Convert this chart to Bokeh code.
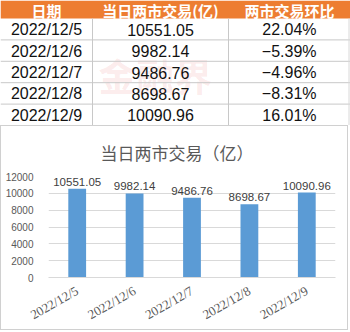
from bokeh.plotting import figure
from bokeh.models import FactorRange, Range1d, FixedTicker, Title
from bokeh.layouts import column
from bokeh.core.properties import value
from bokeh.embed import file_html
from bokeh.resources import INLINE

dates = ["2022/12/5", "2022/12/6", "2022/12/7", "2022/12/8", "2022/12/9"]
volumes = [10551.05, 9982.14, 9486.76, 8698.67, 10090.96]
changes = ["22.04%", "\u22125.39%", "\u22124.96%", "\u22128.31%", "16.01%"]
headers = ["日期", "当日两市交易(亿)", "两市交易环比"]
chart_title = "当日两市交易（亿）"
y_ticks = [0, 2000, 4000, 6000, 8000, 10000, 12000]

ORANGE = "#ED7D31"
BLUE = "#5B9BD5"
GRID = "#d9d9d9"

# ---------------- table ----------------
TW, TH = 350, 125
HEAD_H = 18
ROW_H = (TH - HEAD_H) / len(dates)
col_lines = [92, 228]
head_x = [46, 160, 289]

t = figure(width=TW, height=TH, x_range=Range1d(0, TW), y_range=Range1d(TH, 0),
           toolbar_location=None, output_backend="svg", min_border=0,
           x_axis_location=None, y_axis_location=None, frame_align=False)
t.grid.visible = False
t.outline_line_color = None
t.background_fill_color = "white"

t.quad(left=[0], right=[TW], top=[0], bottom=[HEAD_H], color=ORANGE, line_color=None)

# watermark
t.text(x=[155], y=[74], text=["金融界"], text_font=value("Noto Sans CJK SC"),
       text_font_size="38px", text_color="#e84040", text_alpha=0.10,
       text_align="center", text_baseline="middle", text_font_style="bold")

row_bounds = [HEAD_H + ROW_H * i for i in range(1, len(dates) + 1)]
t.segment(x0=[0] * len(row_bounds), x1=[TW] * len(row_bounds), y0=row_bounds, y1=row_bounds,
          line_color="#c8c8c8", line_width=1)
t.segment(x0=col_lines, x1=col_lines, y0=[HEAD_H] * 2, y1=[TH] * 2, line_color="#c8c8c8", line_width=1)
t.segment(x0=[TW - 1.5], x1=[TW - 1.5], y0=[HEAD_H], y1=[TH], line_color="#d8d8d8", line_width=1)

t.text(x=head_x, y=[HEAD_H / 2 + 0.5] * 3, text=headers, text_font=value("Noto Sans CJK SC"),
       text_font_size="15px", text_font_style="bold", text_color="white",
       text_align="center", text_baseline="middle")

ys = [HEAD_H + ROW_H * (i + 0.5) + 0.5 for i in range(len(dates))]
t.text(x=[46] * len(dates), y=ys, text=dates, text_font=value("Liberation Sans"),
       text_font_size="16px", text_color="#111111", text_align="center", text_baseline="middle")
t.text(x=[160] * len(dates), y=ys, text=[f"{v:.2f}" for v in volumes], text_font=value("Liberation Sans"),
       text_font_size="16px", text_color="#111111", text_align="center", text_baseline="middle")
t.text(x=[316] * len(dates), y=ys, text=changes, text_font=value("Liberation Sans"),
       text_font_size="16px", text_color="#111111", text_align="right", text_baseline="middle")

# ---------------- chart ----------------
p = figure(width=348, height=205, x_range=FactorRange(*dates), y_range=Range1d(0, 12000),
           toolbar_location=None, output_backend="svg",
           min_border_left=47, min_border_right=14, min_border_top=49, min_border_bottom=48,
           title=None, frame_align=False,
           styles={"border": "1px solid #d0d0d0"})
p.outline_line_color = None
p.add_layout(Title(text=chart_title, align="left", offset=52, standoff=23,
                   text_font="Noto Sans CJK SC", text_font_size="17px",
                   text_font_style="normal", text_color="#595959"), "above")

p.vbar(x=dates, top=volumes, width=0.31, color=BLUE, line_color=None)
p.text(x=dates, y=volumes, text=[f"{v:.2f}" for v in volumes], y_offset=-7,
       text_font=value("Liberation Sans"), text_font_size="11.5px", text_color="#404040",
       text_align="center", text_baseline="alphabetic")

p.xgrid.visible = False
p.ygrid.grid_line_color = GRID
p.yaxis.ticker = FixedTicker(ticks=y_ticks)
p.yaxis.axis_line_color = None
p.yaxis.major_tick_line_color = None
p.yaxis.minor_tick_line_color = None
p.yaxis.major_label_text_font = "Liberation Sans"
p.yaxis.major_label_text_font_size = "10px"
p.yaxis.major_label_text_color = "#595959"
p.yaxis.major_label_standoff = 9

p.xaxis.axis_line_color = GRID
p.xaxis.major_tick_line_color = None
p.xaxis.major_label_orientation = 0.52
p.xaxis.major_label_text_font = "Liberation Serif"
p.xaxis.major_label_text_font_size = "13px"
p.xaxis.major_label_text_color = "#595959"
p.xaxis.major_label_standoff = 6

layout = column(t, p, spacing=0)
open("out.html", "w").write(file_html(layout, INLINE))
